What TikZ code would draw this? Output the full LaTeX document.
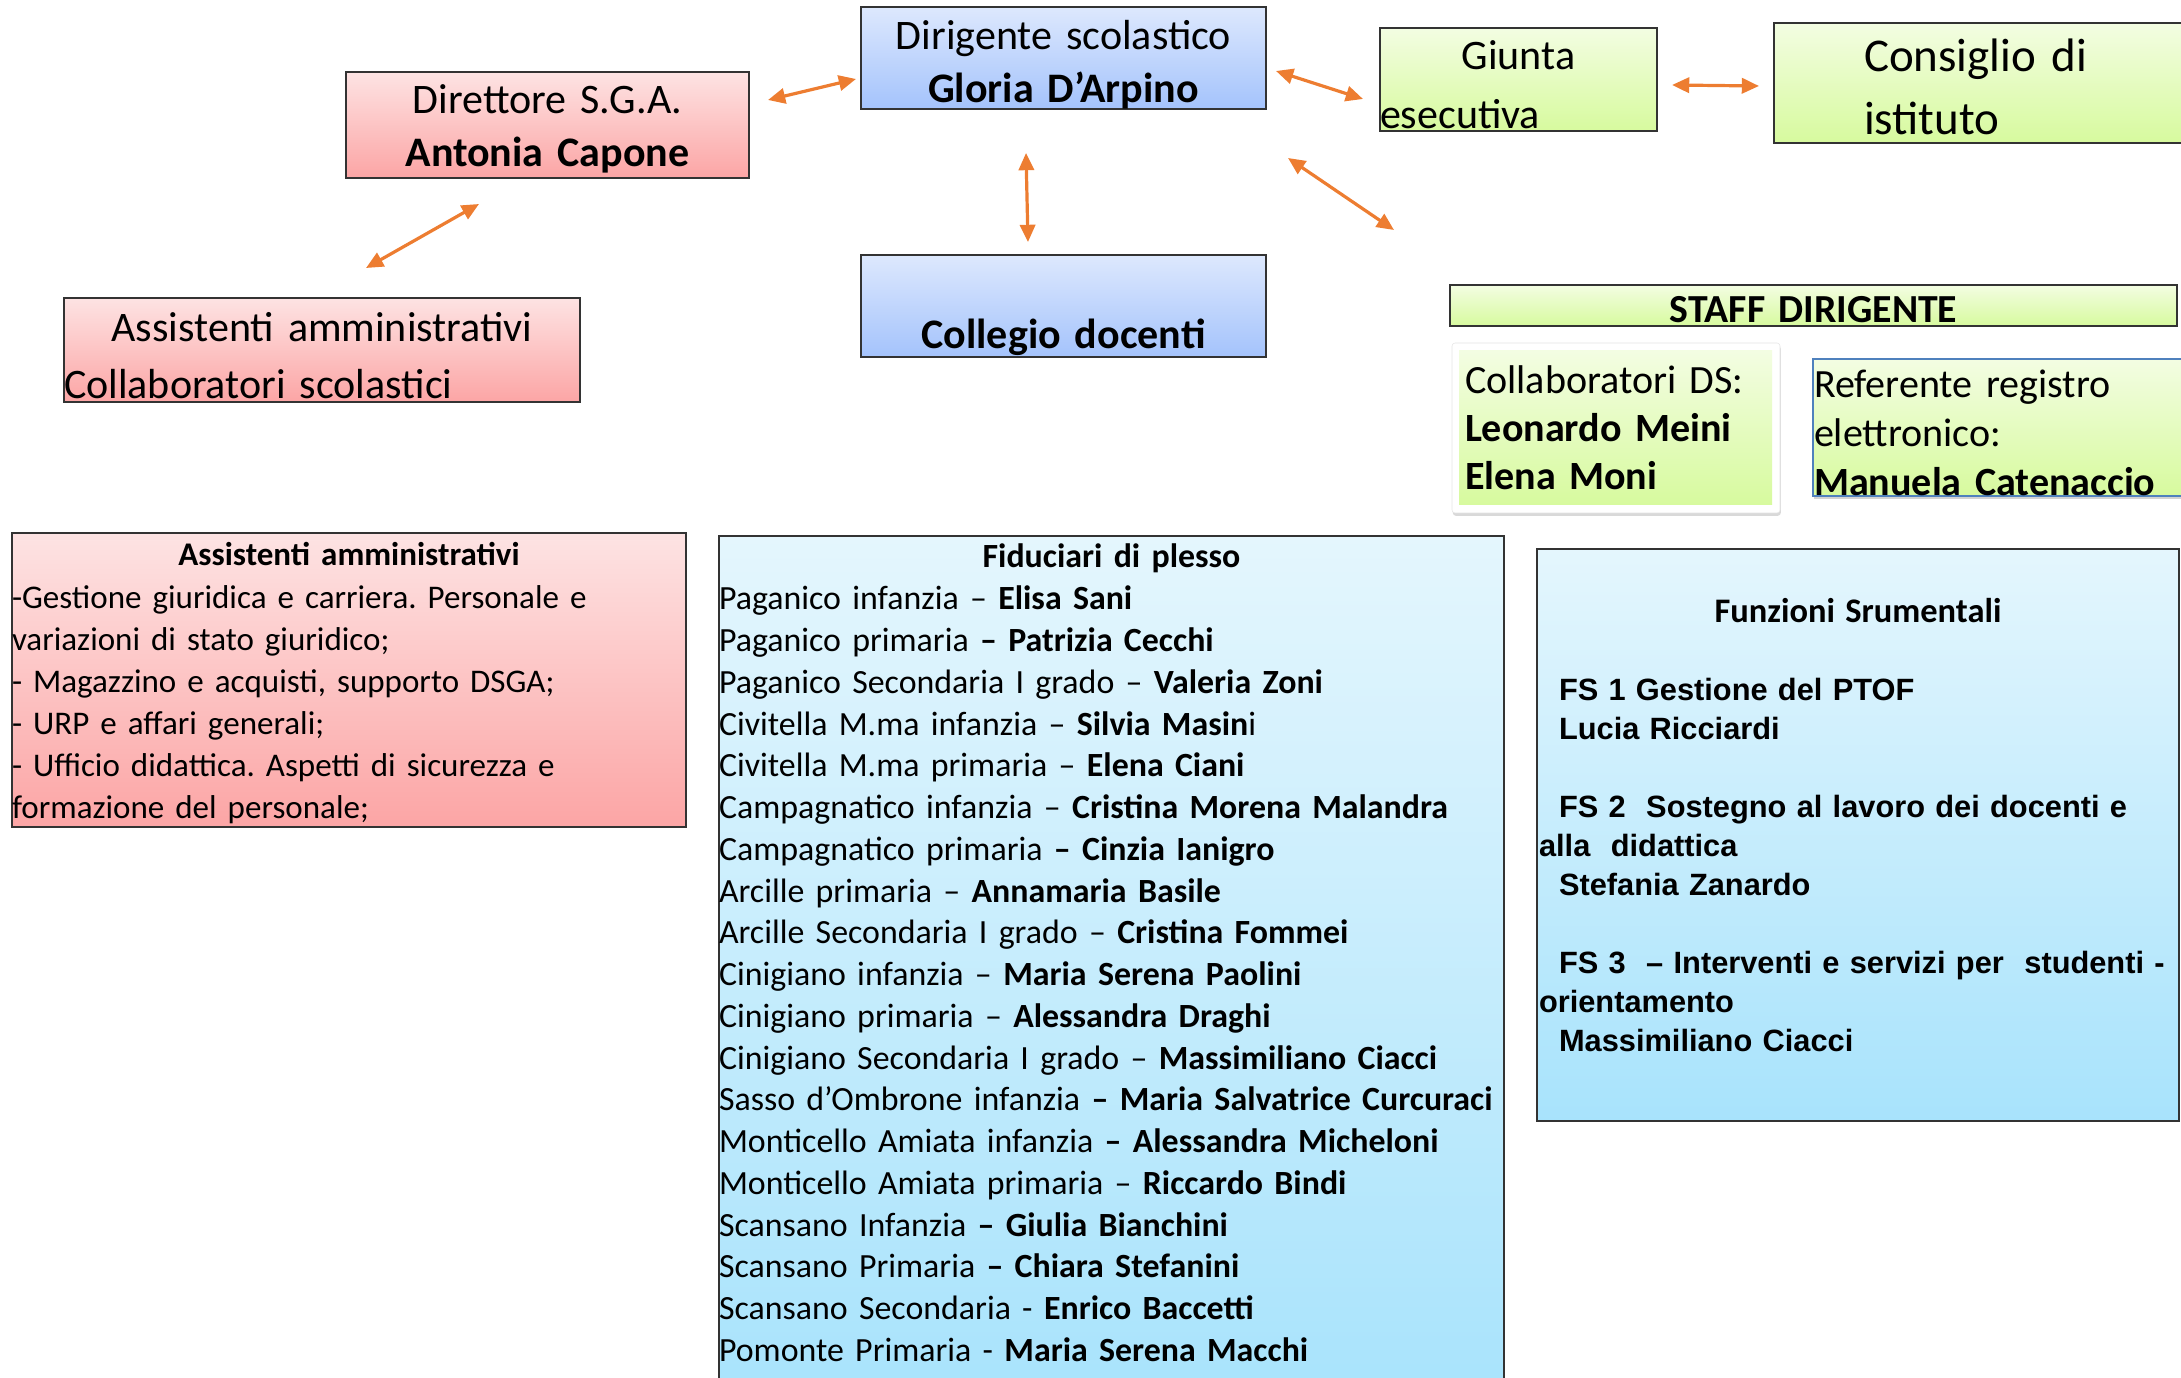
\documentclass[tikz,border=0pt]{standalone}
\usepackage{fontspec}
\setmainfont{Carlito}
\newfontfamily\arialfont{Liberation Sans}
\usetikzlibrary{arrows.meta,shadows}
\frenchspacing

\definecolor{pinktop}{HTML}{FDE3E3}
\definecolor{pinkbot}{HTML}{FCA5A5}
\definecolor{bluetop}{HTML}{DDE8FD}
\definecolor{bluebot}{HTML}{A4C3FC}
\definecolor{greentop}{HTML}{F3FDE2}
\definecolor{greenbot}{HTML}{D7FA9E}
\definecolor{cyantop}{HTML}{E4F6FD}
\definecolor{cyanbot}{HTML}{A8E3FC}
\definecolor{linkorange}{HTML}{ED7D31}
\definecolor{regblue}{HTML}{4F81BD}

\newlength\pix
\setlength\pix{0.25mm}
\newcommand\midline[1]{\makebox[\linewidth]{#1}}

\begin{document}
\begin{tikzpicture}[x=0.25mm, y=-0.25mm,
  box/.style={rectangle, draw=black!80, line width=0.5mm, inner sep=0pt},
  pinkbox/.style={box, top color=pinktop, bottom color=pinkbot},
  bluebox/.style={box, top color=bluetop, bottom color=bluebot},
  greenbox/.style={box, top color=greentop, bottom color=greenbot},
  cyanbox/.style={box, top color=cyantop, bottom color=cyanbot},
  big/.style={font=\fontsize{29.9}{37.7}\selectfont},
  link/.style={draw=linkorange, line width=0.8mm,
    {Triangle[length=4.3mm,width=3.8mm]}-{Triangle[length=4.3mm,width=3.8mm]}},
]
\useasboundingbox (0,0) rectangle (2181,1378);
\clip (0,0) rectangle (2181,1378);

% top row
\node[bluebox, big, text width=405\pix, text height=43\pix, text depth=59\pix, align=center]
  (ds) at (1063.5,58) {Dirigente scolastico\\\textbf{Gloria D’Arpino}};
\node[pinkbox, big, text width=403\pix, text height=42\pix, text depth=64\pix, align=center]
  (dsga) at (547.5,125) {Direttore S.G.A.\\\textbf{Antonia Capone}};
\node[pinkbox, font=\fontsize{29.9}{40.5}\selectfont, text width=516\pix, text height=44\pix, text depth=60\pix, align=left]
  (pers) at (322,350) {\midline{Assistenti amministrativi}\\Collaboratori scolastici};
\node[bluebox, big, text width=405\pix, text height=94\pix, text depth=8\pix, align=center]
  (cd) at (1063.5,306) {\textbf{Collegio docenti}};
\node[greenbox, font=\fontsize{29.9}{41.3}\selectfont, text width=277\pix, text height=42\pix, text depth=61\pix, align=left]
  (ge) at (1518.5,79.5) {\midline{Giunta}\\esecutiva};
\node[greenbox, font=\fontsize{33.4}{44.8}\selectfont, text width=466\pix, text height=49\pix, text depth=71\pix, align=left]
  (ci) at (2007,83) {\hspace*{90\pix}Consiglio di\\\hspace*{90\pix}istituto};

% staff
\node[greenbox, line width=0.7mm, font=\fontsize{28.3}{34}\selectfont\bfseries, text width=727\pix, text height=38\pix, text depth=3\pix, align=center]
  (staff) at (1813.5,305.5) {STAFF DIRIGENTE};
\node[rectangle, fill=white, draw=black!10, rounded corners=3\pix, minimum width=328\pix, minimum height=170\pix,
  drop shadow={shadow xshift=0.2mm, shadow yshift=-0.7mm, opacity=0.3}]
  (collabframe) at (1616,428) {};
\node[rectangle, top color=greentop, bottom color=greenbot, inner xsep=6\pix, inner ysep=0pt,
  font=\fontsize{28.5}{33.8}\selectfont, text width=301\pix, text height=43\pix, text depth=111\pix, align=left]
  (collab) at (1615.5,428) {Collaboratori DS:\\\textbf{Leonardo Meini}\\\textbf{Elena Moni}};
\node[rectangle, draw=regblue, line width=0.3mm, top color=greentop, bottom color=greenbot, inner xsep=1\pix, inner ysep=0pt,
  drop shadow={shadow xshift=0.2mm, shadow yshift=-0.8mm, opacity=0.35},
  font=\fontsize{28.5}{34.5}\selectfont, text width=425\pix, text height=39\pix, text depth=98\pix, align=left]
  (reg) at (2026.5,427.5) {Referente registro\\elettronico:\\\textbf{Manuela Catenaccio}};

% lower boxes
\node[pinkbox, font=\fontsize{23.5}{29.9}\selectfont, text width=674\pix, text height=33\pix, text depth=261\pix, align=left]
  (amm) at (349,680) {\midline{\textbf{Assistenti amministrativi}}\\
  -Gestione giuridica e carriera. Personale e\\
  variazioni di stato giuridico;\\
  - Magazzino e acquisti, supporto DSGA;\\
  - URP e affari generali;\\
  - Ufficio didattica. Aspetti di sicurezza e\\
  formazione del personale;};

\node[cyanbox, font=\fontsize{24.1}{29.7}\selectfont, text width=785\pix, text height=32\pix, text depth=832\pix, align=left]
  (fid) at (1111.5,968) {\midline{\textbf{Fiduciari di plesso}}\\
  Paganico infanzia – \textbf{Elisa Sani}\\
  Paganico primaria \textbf{– Patrizia Cecchi}\\
  Paganico Secondaria I grado – \textbf{Valeria Zoni}\\
  Civitella M.ma infanzia – \textbf{Silvia Masin}i\\
  Civitella M.ma primaria – \textbf{Elena Ciani}\\
  Campagnatico infanzia – \textbf{Cristina Morena Malandra}\\
  Campagnatico primaria \textbf{– Cinzia Ianigro}\\
  Arcille primaria – \textbf{Annamaria Basile}\\
  Arcille Secondaria I grado – \textbf{Cristina Fommei}\\
  Cinigiano infanzia – \textbf{Maria Serena Paolini}\\
  Cinigiano primaria – \textbf{Alessandra Draghi}\\
  Cinigiano Secondaria I grado – \textbf{Massimiliano Ciacci}\\
  \mbox{Sasso d’Ombrone infanzia \textbf{– Maria Salvatrice Curcuraci}}\\
  Monticello Amiata infanzia \textbf{– Alessandra Micheloni}\\
  Monticello Amiata primaria – \textbf{Riccardo Bindi}\\
  Scansano Infanzia \textbf{– Giulia Bianchini}\\
  Scansano Primaria \textbf{– Chiara Stefanini}\\
  Scansano Secondaria - \textbf{Enrico Baccetti}\\
  Pomonte Primaria - \textbf{Maria Serena Macchi}};

\node[cyanbox, font=\arialfont\bfseries\fontsize{21.9}{27.7}\selectfont, inner xsep=2\pix, text width=638\pix, text height=74\pix, text depth=498\pix, align=left]
  (fsr) at (1858,835) {\midline{\rmfamily\fontsize{24.5}{27.7}\selectfont Funzioni Srumentali}\\
  \mbox{}\\
  \hspace*{20\pix}FS 1 Gestione del PTOF\\
  \hspace*{20\pix}Lucia Ricciardi\\
  \mbox{}\\
  \hspace*{20\pix}FS 2\ \ Sostegno al lavoro dei docenti e\\
  alla\ \ didattica\\
  \hspace*{20\pix}Stefania Zanardo\\
  \mbox{}\\
  \hspace*{20\pix}FS 3\ \ – Interventi e servizi per\ \ studenti -\\
  orientamento\\
  \hspace*{20\pix}Massimiliano Ciacci};

% arrows
\coordinate (dsga-r) at (768,100);
\coordinate (ds-l) at (856,79);
\coordinate (dsga-b) at (479,204);
\coordinate (pers-t) at (366,268);
\coordinate (ds-b) at (1026,153);
\coordinate (cd-t) at (1028,242);
\coordinate (ds-r) at (1276,71);
\coordinate (ge-l) at (1363,99);
\coordinate (ge-r) at (1672,85);
\coordinate (ci-l) at (1759,86);
\coordinate (ds-br) at (1288,158);
\coordinate (staff-t) at (1394,230);
\draw[link] (dsga-r) -- (ds-l);
\draw[link] (dsga-b) -- (pers-t);
\draw[link] (ds-b) -- (cd-t);
\draw[link] (ds-r) -- (ge-l);
\draw[link] (ge-r) -- (ci-l);
\draw[link] (ds-br) -- (staff-t);
\end{tikzpicture}
\end{document}
